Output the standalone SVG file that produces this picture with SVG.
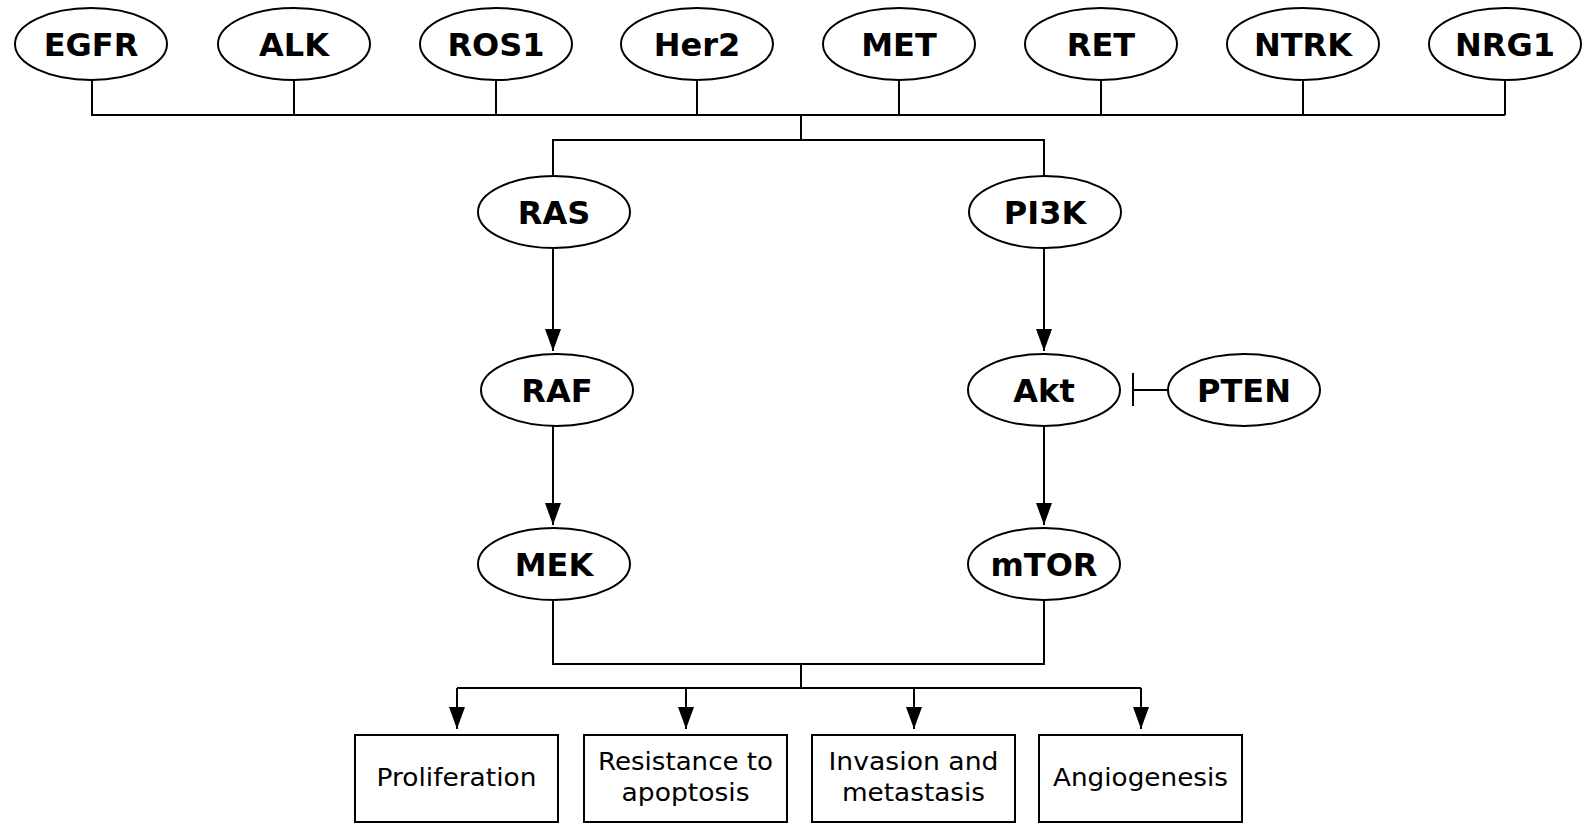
<svg xmlns="http://www.w3.org/2000/svg" width="1589" height="826" viewBox="0 0 1589 826">
<defs>
<marker id="arr" markerWidth="22" markerHeight="16" refX="22" refY="8" orient="auto" markerUnits="userSpaceOnUse" viewBox="0 0 22 16">
<path d="M0,0 L22,8 L0,16 Z" fill="#000"/>
</marker>
<style>
.n ellipse{fill:#fff;stroke:#000;stroke-width:2}
.n text{font-family:"DejaVu Sans",Verdana,sans-serif;font-weight:bold;font-size:32px;text-anchor:middle}
.b rect{fill:#fff;stroke:#000;stroke-width:2}
.b text{font-family:"DejaVu Sans",Verdana,sans-serif;font-size:25px;text-anchor:middle}
.c{fill:none;stroke:#000;stroke-width:2}
</style>
</defs>
<rect width="1589" height="826" fill="#fff"/>
<g id="connectors" class="c">
<path d="M92,80 V115 H1505 M294,80 V115 M496,80 V115 M697,80 V115 M899,80 V115 M1101,80 V115 M1303,80 V115 M1505,80 V115"/>
<path d="M801,115 V140 M553,177 V140 H1044 V177"/>
<path d="M553,248 V351" marker-end="url(#arr)"/>
<path d="M553,426 V525" marker-end="url(#arr)"/>
<path d="M1044,248 V351" marker-end="url(#arr)"/>
<path d="M1044,426 V525" marker-end="url(#arr)"/>
<path d="M1168,390 H1133 M1133,373 V406"/>
<path d="M553,600 V664 H1044 V600 M801,664 V688 M457,688 H1141"/>
<path d="M457,688 V729" marker-end="url(#arr)"/>
<path d="M686,688 V729" marker-end="url(#arr)"/>
<path d="M914,688 V729" marker-end="url(#arr)"/>
<path d="M1141,688 V729" marker-end="url(#arr)"/>
</g>
<g id="EGFR" class="n"><ellipse cx="91" cy="44" rx="76" ry="36"/><text x="91" y="55.5">EGFR</text></g>
<g id="ALK" class="n"><ellipse cx="294" cy="44" rx="76" ry="36"/><text x="294" y="55.5">ALK</text></g>
<g id="ROS1" class="n"><ellipse cx="496" cy="44" rx="76" ry="36"/><text x="496" y="55.5">ROS1</text></g>
<g id="Her2" class="n"><ellipse cx="697" cy="44" rx="76" ry="36"/><text x="697" y="55.5">Her2</text></g>
<g id="MET" class="n"><ellipse cx="899" cy="44" rx="76" ry="36"/><text x="899" y="55.5">MET</text></g>
<g id="RET" class="n"><ellipse cx="1101" cy="44" rx="76" ry="36"/><text x="1101" y="55.5">RET</text></g>
<g id="NTRK" class="n"><ellipse cx="1303" cy="44" rx="76" ry="36"/><text x="1303" y="55.5">NTRK</text></g>
<g id="NRG1" class="n"><ellipse cx="1505" cy="44" rx="76" ry="36"/><text x="1505" y="55.5">NRG1</text></g>
<g id="RAS" class="n"><ellipse cx="554" cy="212" rx="76" ry="36"/><text x="554" y="223.5">RAS</text></g>
<g id="PI3K" class="n"><ellipse cx="1045" cy="212" rx="76" ry="36"/><text x="1045" y="223.5">PI3K</text></g>
<g id="RAF" class="n"><ellipse cx="557" cy="390" rx="76" ry="36"/><text x="557" y="401.5">RAF</text></g>
<g id="Akt" class="n"><ellipse cx="1044" cy="390" rx="76" ry="36"/><text x="1044" y="401.5">Akt</text></g>
<g id="PTEN" class="n"><ellipse cx="1244" cy="390" rx="76" ry="36"/><text x="1244" y="401.5">PTEN</text></g>
<g id="MEK" class="n"><ellipse cx="554" cy="564" rx="76" ry="36"/><text x="554" y="575.5">MEK</text></g>
<g id="mTOR" class="n"><ellipse cx="1044" cy="564" rx="76" ry="36"/><text x="1044" y="575.5">mTOR</text></g>
<g id="Proliferation" class="b"><rect x="355" y="735" width="203" height="87"/><text x="456.5" y="786" textLength="160" lengthAdjust="spacingAndGlyphs">Proliferation</text></g>
<g id="Resistance" class="b"><rect x="584" y="735" width="203" height="87"/><text x="685.5" y="770" textLength="175" lengthAdjust="spacingAndGlyphs">Resistance to</text><text x="685.5" y="801" textLength="128" lengthAdjust="spacingAndGlyphs">apoptosis</text></g>
<g id="Invasion" class="b"><rect x="812" y="735" width="203" height="87"/><text x="913.5" y="770" textLength="170" lengthAdjust="spacingAndGlyphs">Invasion and</text><text x="913.5" y="801" textLength="143" lengthAdjust="spacingAndGlyphs">metastasis</text></g>
<g id="Angiogenesis" class="b"><rect x="1039" y="735" width="203" height="87"/><text x="1140.5" y="786" textLength="175" lengthAdjust="spacingAndGlyphs">Angiogenesis</text></g>
</svg>
